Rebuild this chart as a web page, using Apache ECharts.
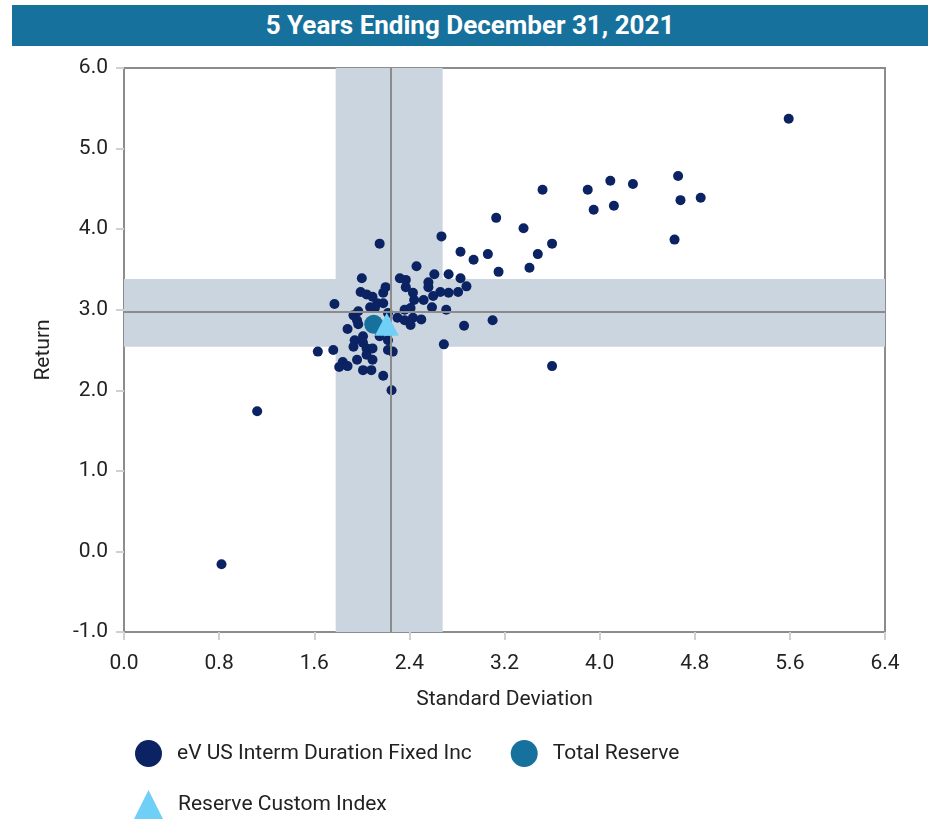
<!DOCTYPE html>
<html>
<head>
<meta charset="utf-8">
<script src="https://cdn.jsdelivr.net/npm/echarts@6/dist/echarts.min.js"></script>
<style>
  html, body { margin: 0; padding: 0; background: #fff; }
  #title { position: absolute; left: 12px; top: 5px; width: 916px; height: 41px; background: #17719d;
    color: #fff; font: bold 26px Roboto, sans-serif; text-align: center; line-height: 41px; }
  #chart { width: 930px; height: 827px; }
</style>
</head>
<body>
<div id="title">5 Years Ending December 31, 2021</div>
<div id="chart"></div>
<script>
// peer universe: standard deviation / return
var peerStd = [0.82, 1.12, 5.59, 4.85, 4.63, 4.66, 4.68, 4.28, 4.09, 4.12, 3.90, 3.95, 3.52, 3.36, 3.60, 3.48,
  3.41, 3.13, 3.15, 3.06, 2.94, 2.83, 2.67, 3.10, 2.86, 3.60, 2.69, 2.25, 2.15,
  2.46, 2.32, 2.37, 2.37, 2.61, 2.73, 2.83, 2.88, 2.56, 2.56, 2.81, 2.73, 2.66, 2.60, 2.43, 2.44, 2.52,
  2.59, 2.71, 2.36, 2.41, 2.30, 2.36, 2.43, 2.50, 2.41,
  2.00, 1.77, 1.99, 2.04, 2.18, 2.20, 2.09, 2.13, 2.18, 2.07, 2.11, 1.97, 1.93, 1.96, 1.88, 1.97,
  2.01, 1.94, 1.93, 2.01, 2.04, 2.09, 1.63, 1.76, 1.84, 1.81, 1.88, 1.96, 2.04, 2.09, 2.01, 2.08,
  2.18, 2.22, 2.22, 2.26, 2.15, 2.22];
var peerRet = [-0.16, 1.74, 5.37, 4.39, 3.87, 4.66, 4.36, 4.56, 4.60, 4.29, 4.49, 4.24, 4.49, 4.01, 3.82, 3.69,
  3.52, 4.14, 3.47, 3.69, 3.62, 3.72, 3.91, 2.87, 2.80, 2.30, 2.57, 2.00, 3.82,
  3.54, 3.39, 3.37, 3.28, 3.44, 3.44, 3.39, 3.29, 3.34, 3.28, 3.22, 3.21, 3.22, 3.17, 3.21, 3.12, 3.12,
  3.03, 3.00, 3.00, 3.02, 2.90, 2.87, 2.90, 2.88, 2.81,
  3.39, 3.07, 3.22, 3.19, 3.21, 3.28, 3.16, 3.08, 3.08, 3.03, 3.02, 2.98, 2.93, 2.87, 2.76, 2.82,
  2.67, 2.62, 2.54, 2.59, 2.52, 2.52, 2.48, 2.50, 2.35, 2.29, 2.30, 2.38, 2.44, 2.38, 2.25, 2.25,
  2.18, 2.62, 2.50, 2.48, 2.67, 2.96];
var totalReserve = [2.10, 2.82];
var customIndex = [2.21, 2.82];
// median lines and interquartile bands
var medianStd = 2.24, stdBand = [1.78, 2.68];
var medianRet = 2.97, retBand = [2.54, 3.38];
var xTicks = { min: 0, max: 6.4, interval: 0.8 };
var yTicks = { min: -1, max: 6, interval: 1 };

var peerData = peerStd.map(function (s, i) { return [s, peerRet[i]]; });

var chart = echarts.init(document.getElementById('chart'));
var axisText = { fontFamily: 'Roboto', fontSize: 21, color: '#222' };
var legendText = { fontFamily: 'Roboto', fontSize: 21, color: '#222', padding: [0, 0, 0, 10] };
chart.setOption({
  animation: false,
  grid: { left: 124, right: 45, top: 68, bottom: 195, show: true, borderColor: '#8c8c8c', borderWidth: 2 },
  xAxis: {
    type: 'value', min: xTicks.min, max: xTicks.max, interval: xTicks.interval,
    name: 'Standard Deviation', nameLocation: 'middle', nameGap: 57, nameTextStyle: axisText,
    axisLine: { show: true, onZero: false, lineStyle: { color: '#8c8c8c', width: 2 } },
    axisTick: { show: true, length: 8, lineStyle: { color: '#d0d0d0', width: 2 } },
    axisLabel: Object.assign({ margin: 21, formatter: function (v) { return v.toFixed(1); } }, axisText),
    splitLine: { show: false }
  },
  yAxis: {
    type: 'value', min: yTicks.min, max: yTicks.max, interval: yTicks.interval,
    name: 'Return', nameLocation: 'middle', nameGap: 70, nameTextStyle: axisText,
    axisLine: { show: true, onZero: false, lineStyle: { color: '#8c8c8c', width: 2 } },
    axisTick: { show: true, length: 8, lineStyle: { color: '#d0d0d0', width: 2 } },
    axisLabel: Object.assign({ margin: 16, formatter: function (v) { return v.toFixed(1); } }, axisText),
    splitLine: { show: false }
  },
  legend: [{
    data: ['eV US Interm Duration Fixed Inc', 'Total Reserve'],
    left: 130, top: 735, itemWidth: 27, itemHeight: 27, itemGap: 39,
    textStyle: legendText
  }, {
    data: [{ name: 'Reserve Custom Index', icon: 'triangle' }],
    left: 129, top: 785, itemWidth: 29, itemHeight: 29,
    textStyle: legendText
  }],
  series: [{
    name: 'bands', type: 'scatter', data: [], z: 1, silent: true,
    markArea: {
      silent: true, itemStyle: { color: '#cbd5df', opacity: 1 },
      data: [
        [{ xAxis: stdBand[0], yAxis: yTicks.min }, { xAxis: stdBand[1], yAxis: yTicks.max }],
        [{ xAxis: xTicks.min, yAxis: retBand[0] }, { xAxis: xTicks.max, yAxis: retBand[1] }]
      ]
    },
    markLine: {
      silent: true, symbol: 'none', label: { show: false },
      lineStyle: { color: '#8c8c8c', width: 2, type: 'solid' },
      data: [{ xAxis: medianStd }, { yAxis: medianRet }]
    }
  }, {
    name: 'eV US Interm Duration Fixed Inc', type: 'scatter', z: 3,
    symbol: 'circle', symbolSize: 10, itemStyle: { color: '#0b2263', opacity: 1 },
    data: peerData
  }, {
    name: 'Total Reserve', type: 'scatter', z: 4,
    symbol: 'circle', symbolSize: 19, itemStyle: { color: '#17719d', opacity: 1 },
    data: [totalReserve]
  }, {
    name: 'Reserve Custom Index', type: 'scatter', z: 5,
    symbol: 'triangle', symbolSize: [24, 23], itemStyle: { color: '#6fcff6', opacity: 1 },
    data: [customIndex]
  }]
});
</script>
</body>
</html>
